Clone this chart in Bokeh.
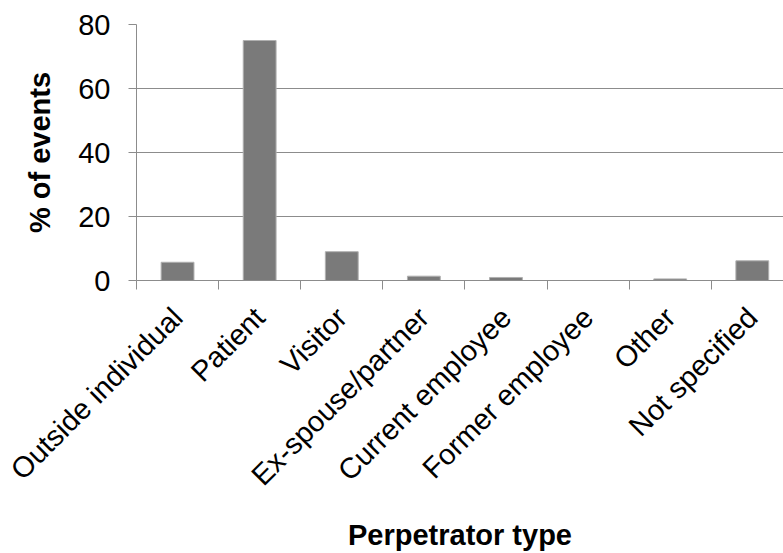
import math
from bokeh.plotting import figure
from bokeh.models import Range1d, FixedTicker, ColumnDataSource
from bokeh.embed import file_html
from bokeh.resources import INLINE

categories = ["Outside individual", "Patient", "Visitor", "Ex-spouse/partner",
              "Current employee", "Former employee", "Other", "Not specified"]
percent_events = [5.7, 75.0, 9.0, 1.35, 0.95, 0.0, 0.5, 6.15]
y_ticks = [0, 20, 40, 60, 80]

FONT = "Liberation Sans"
GRID = "#8c8c8c"

centers = [i + 0.5 for i in range(len(categories))]
src = ColumnDataSource(dict(x=centers, top=percent_events))

p = figure(width=783, height=553, output_backend="svg", toolbar_location=None,
           x_range=Range1d(0, 7.88), y_range=Range1d(0, 80),
           min_border_left=136, min_border_right=0, min_border_top=24,
           min_border_bottom=272)
p.outline_line_color = None
p.background_fill_color = "white"
p.border_fill_color = "white"

p.vbar(x="x", top="top", width=0.4, bottom=0, source=src,
       fill_color="#7a7a7a", line_color="#b0b0b0", line_width=1)

# x axis: labels at category centers, tick marks at boundaries (minor ticks)
xa = p.xaxis[0]
xa.ticker = FixedTicker(ticks=centers, minor_ticks=list(range(len(categories) + 1)))
xa.major_label_overrides = {c: lab for c, lab in zip(centers, categories)}
xa.major_label_orientation = math.pi / 4
xa.major_tick_out = 0
xa.major_tick_in = 0
xa.minor_tick_out = 9
xa.minor_tick_in = 0
xa.minor_tick_line_color = GRID
xa.axis_line_color = GRID
xa.major_label_text_font = FONT
xa.major_label_text_font_size = "29px"
xa.major_label_text_color = "black"
xa.major_label_standoff = 23
xa.axis_label = "Perpetrator type"
xa.axis_label_text_font = FONT
xa.axis_label_text_font_style = "bold"
xa.axis_label_text_font_size = "29px"
xa.axis_label_text_color = "black"
xa.axis_label_standoff = 13

ya = p.yaxis[0]
ya.ticker = FixedTicker(ticks=y_ticks)
ya.minor_tick_line_color = None
ya.major_tick_out = 8
ya.major_tick_in = 0
ya.major_tick_line_color = GRID
ya.axis_line_color = GRID
ya.major_label_text_font = FONT
ya.major_label_text_font_size = "29px"
ya.major_label_text_color = "black"
ya.major_label_standoff = 18
ya.axis_label = "% of events"
ya.axis_label_text_font = FONT
ya.axis_label_text_font_style = "bold"
ya.axis_label_text_font_size = "29px"
ya.axis_label_text_color = "black"
ya.axis_label_standoff = 19

p.xgrid.grid_line_color = None
p.ygrid.grid_line_color = GRID
p.ygrid.grid_line_width = 1

open("out.html", "w").write(file_html(p, INLINE))
